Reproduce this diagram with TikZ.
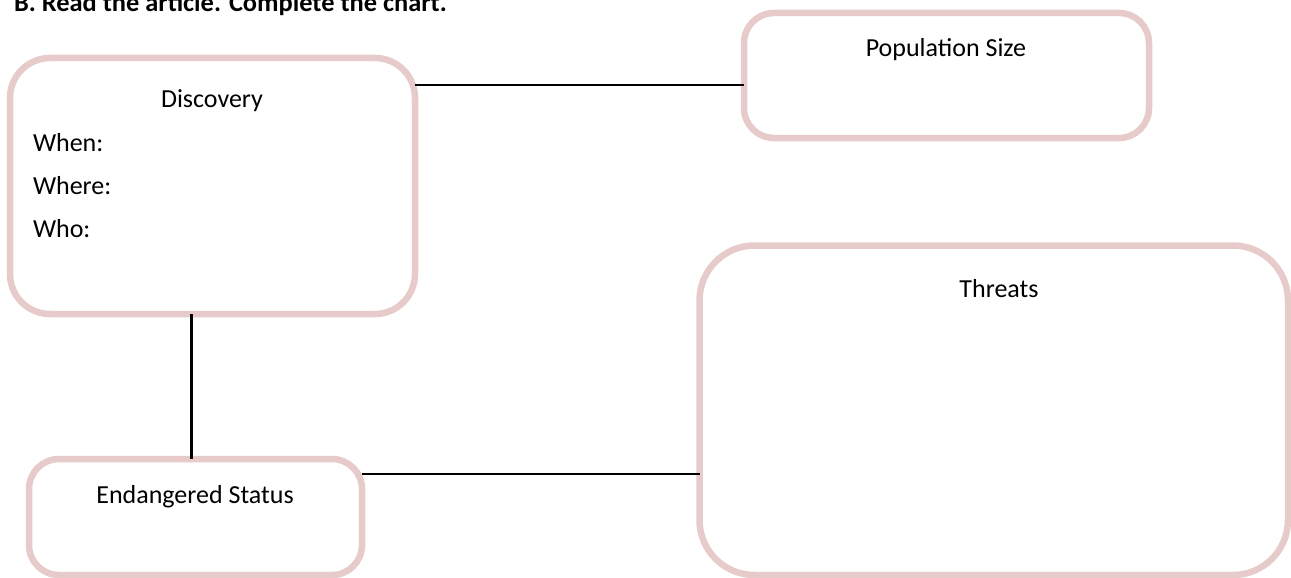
\documentclass[tikz,border=0pt]{standalone}
\usepackage{fontspec}
\setmainfont{Carlito}
\definecolor{boxpink}{RGB}{231,202,202}
\begin{document}
\begin{tikzpicture}[x=1pt,y=-1pt,
  chartbox/.style={draw=boxpink,line width=6.5pt,fill=none,inner sep=0pt,outer sep=0pt,rectangle},
  link/.style={draw=black,line width=2.2pt},
  lbl/.style={inner sep=0pt,outer sep=0pt,font=\fontsize{26}{30}\selectfont}]
\useasboundingbox (0,0) rectangle (1291,578);
% title
\node[lbl,anchor=base west,font=\bfseries\fontsize{26.4}{30}\selectfont] (title) at (14,12) {B. Read the article. Complete the chart.};
% boxes
\node[chartbox,rounded corners=40pt,minimum width=405pt,minimum height=256pt] (disc) at (212.5,186) {};
\node[chartbox,rounded corners=30pt,minimum width=405pt,minimum height=125pt] (pop) at (946.5,75.5) {};
\node[chartbox,rounded corners=55pt,minimum width=588.5pt,minimum height=329.5pt] (thr) at (993.75,410.25) {};
\node[chartbox,rounded corners=30pt,minimum width=333pt,minimum height=116pt] (endg) at (195.5,517) {};
% texts
\node[lbl,anchor=base] (tpop) at (946,57) {Population Size};
\node[lbl,anchor=base] (tdisc) at (212,107) {Discovery};
\node[lbl,anchor=base west] (twhen) at (33,151) {When:};
\node[lbl,anchor=base west] (twhere) at (33,194) {Where:};
\node[lbl,anchor=base west] (twho) at (33,237) {Who:};
\node[lbl,anchor=base] (tthr) at (999,297) {Threats};
\node[lbl,anchor=base] (tend) at (195,503) {Endangered Status};
% connectors
\coordinate (c1) at (0,85);
\coordinate (c2) at (191.5,0);
\coordinate (c3) at (0,474);
\draw[link] (c1 -| disc.east) -- (c1 -| pop.west);
\draw[link] (c2 |- disc.south) -- (c2 |- endg.north);
\draw[link] (c3 -| endg.east) -- (c3 -| thr.west);
\end{tikzpicture}
\end{document}
